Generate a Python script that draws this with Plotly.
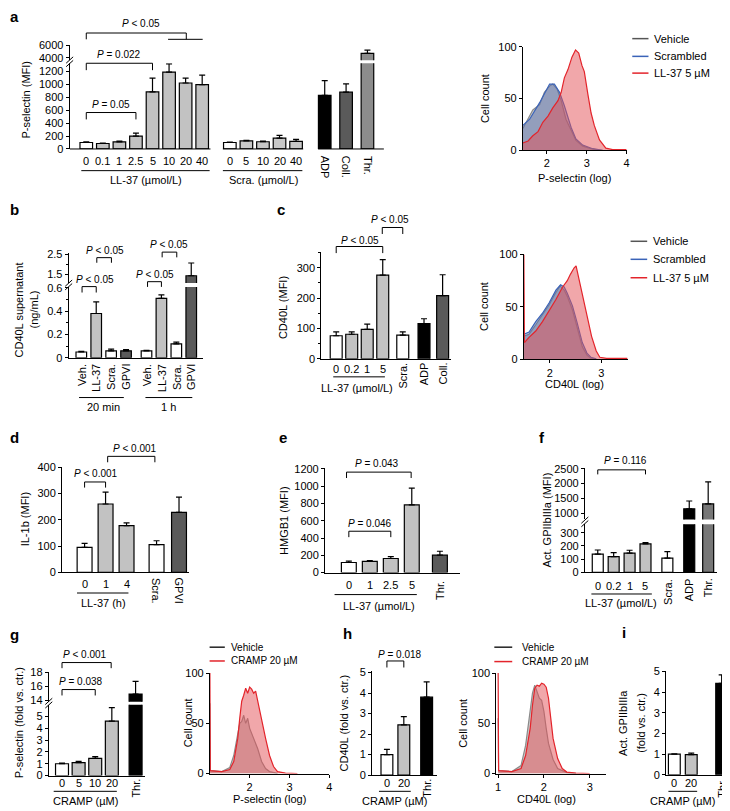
import plotly.graph_objects as go

W, H = 730, 811
FONT = "Liberation Sans, Arial, Helvetica, sans-serif"

# ======================= DATA =======================
# a: P-selectin (MFI)
a_ll37_doses = ["0", "0.1", "1", "2.5", "5", "10", "20", "40"]
a_ll37_mean = [100, 85, 110, 200, 884, 1189, 1021, 995]
a_ll37_sem = [12, 6, 10, 45, 213, 126, 76, 148]
a_scra_doses = ["0", "5", "10", "20", "40"]
a_scra_mean = [100, 125, 112, 168, 117]
a_scra_sem = [6, 10, 8, 41, 31]
a_ctrl_labels = ["ADP", "Coll.", "Thr."]
a_ctrl_mean = [828, 879, 4700]
a_ctrl_sem = [228, 127, 500]

# a histogram (P-selectin log)
a_veh_x = [1.4, 1.53, 1.65, 1.82, 1.94, 2.07, 2.15, 2.26, 2.36, 2.48, 2.61, 2.73, 2.9, 3.15, 3.4]
a_veh_y = [21, 30, 39, 44, 56, 62, 64, 59, 48, 30, 19, 9.5, 4, 1, 0]
a_scr_x = [1.4, 1.57, 1.82, 1.98, 2.07, 2.19, 2.32, 2.44, 2.61, 2.73, 2.9, 3.15, 3.4]
a_scr_y = [24, 30, 46, 58, 64, 64, 56, 43, 22, 11, 5, 1.5, 0]
a_ll_x = [1.4, 1.53, 1.65, 1.78, 1.9, 2.03, 2.15, 2.28, 2.36, 2.44, 2.53, 2.63, 2.72, 2.8, 2.88, 2.94,
          3.03, 3.11, 3.19, 3.32, 3.48, 3.65, 4.0]
a_ll_y = [7, 9, 14, 18, 27, 33, 41, 48, 56, 70, 78, 90, 97, 94, 82, 76, 54, 36, 24, 10, 2, 0.6, 0.6]

# b: CD40L supernatant (ng/mL)
b_groups = ["20 min", "1 h"]
b_labels = ["Veh.", "LL-37", "Scra.", "GPVI"]
b_20min_mean = [0.05, 0.38, 0.06, 0.06]
b_20min_sem = [0.005, 0.10, 0.015, 0.01]
b_1h_mean = [0.06, 0.51, 0.12, 1.43]
b_1h_sem = [0.005, 0.03, 0.015, 0.64]

# c: CD40L (MFI)
c_labels = ["0", "0.2", "1", "5", "Scra.", "ADP", "Coll."]
c_mean = [76, 81, 97, 276, 78, 116, 208]
c_sem = [13, 8, 17, 51, 11, 16, 69]

# c histogram (CD40L log)
c_veh_x = [1.5, 1.6, 1.73, 1.86, 1.99, 2.1, 2.2, 2.28, 2.34, 2.44, 2.53, 2.63, 2.72, 2.8, 2.9]
c_veh_y = [22, 24, 33, 42, 52, 62, 70, 66, 60, 47, 30, 12, 4, 1, 0.3]
c_scr_x = [1.5, 1.6, 1.73, 1.86, 1.99, 2.12, 2.21, 2.28, 2.34, 2.44, 2.53, 2.63, 2.72, 2.8, 2.9]
c_scr_y = [24, 26, 36, 44, 54, 66, 71, 69, 63, 51, 35, 16, 6, 2, 0.5]
c_ll_x = [1.5, 1.51, 1.6, 1.73, 1.86, 1.99, 2.12, 2.25, 2.34, 2.4, 2.47, 2.51, 2.56, 2.64, 2.72,
          2.81, 2.9, 2.97, 3.1, 3.3, 3.5]
c_ll_y = [100, 16, 21, 27, 36, 46, 57, 69, 75, 81, 87, 89, 78, 62, 44, 22, 8, 2, 1, 1, 1]

# d: IL-1b (MFI)
d_labels = ["0", "1", "4", "Scra.", "GPVI"]
d_mean = [95, 260, 178, 105, 228]
d_sem = [15, 45, 10, 15, 58]

# e: HMGB1 (MFI)
e_labels = ["0", "1", "2.5", "5", "Thr."]
e_mean = [117, 129, 163, 783, 202]
e_sem = [16, 11, 23, 194, 45]

# f: Act. GPIIbIIIa (MFI)
f_labels = ["0", "0.2", "1", "5", "Scra.", "ADP", "Thr."]
f_mean = [137, 119, 145, 215, 107, 1147, 1313]
f_sem = [32, 30, 22, 10, 50, 266, 744]

# g: P-selectin (fold vs. ctr.)
g_labels = ["0", "5", "10", "20", "Thr."]
g_mean = [1.0, 1.1, 1.45, 4.6, 14.9]
g_sem = [0.05, 0.1, 0.15, 1.15, 1.8]

# g histogram
g_veh_x = [1.0, 1.01, 1.3, 1.5, 1.6, 1.7, 1.75, 1.8, 1.85, 1.9, 1.95, 2.0, 2.1, 2.2, 2.3, 2.4, 2.5, 2.7]
g_veh_y = [70, 3, 2, 6, 18, 38, 50, 52, 58, 50, 55, 45, 35, 25, 12, 5, 2, 0.3]
g_cr_x = [1.0, 1.01, 1.3, 1.5, 1.6, 1.7, 1.75, 1.8, 1.85, 1.9, 1.95, 2.0, 2.05, 2.1, 2.15, 2.2, 2.3,
          2.4, 2.5, 2.6, 2.7, 2.9, 3.2]
g_cr_y = [100, 3, 2, 4, 12, 35, 55, 72, 78, 85, 80, 86, 84, 80, 82, 72, 55, 35, 18, 7, 2, 0.5, 0]

# h: CD40L (fold vs. ctr.)
h_labels = ["0", "20", "Thr."]
h_mean = [1.0, 2.45, 3.8]
h_sem = [0.25, 0.4, 0.75]

# h histogram
h_veh_x = [1.0, 1.01, 1.3, 1.5, 1.6, 1.7, 1.75, 1.8, 1.85, 1.9, 1.95, 2.0, 2.05, 2.1, 2.2, 2.3, 2.5, 2.7]
h_veh_y = [55, 3, 2, 8, 28, 60, 80, 88, 82, 75, 73, 62, 45, 30, 14, 5, 1, 0]
h_cr_x = [1.0, 1.01, 1.3, 1.5, 1.6, 1.7, 1.75, 1.8, 1.85, 1.9, 1.95, 2.0, 2.05, 2.1, 2.15, 2.2, 2.3,
          2.4, 2.5, 2.7, 3.0]
h_cr_y = [100, 3, 2, 5, 18, 45, 68, 85, 88, 87, 90, 89, 86, 75, 55, 35, 15, 5, 1.5, 0.5, 0]

# i: Act. GPIIbIIIa (fold vs. ctr.)
i_labels = ["0", "20", "Thr."]
i_mean = [1.0, 0.98, 4.42]
i_sem = [0.02, 0.07, 0.41]

# ======================= STYLE / HELPERS =======================
WHITE, LG, LG2, DG, MG, BLK = "#ffffff", "#c2c2c2", "#c8c8c8", "#5a5a5a", "#8c8c8c", "#000000"
VEH_L, SCR_L, RED_L = "#8a8a8a", "#3a63b8", "#e3242b"
VEH_F, SCR_F, RED_F = "rgba(140,140,140,0.45)", "rgba(80,105,170,0.45)", "rgba(228,80,85,0.5)"

layout = dict(width=W, height=H, margin=dict(l=0, r=0, t=0, b=0),
              paper_bgcolor="white", plot_bgcolor="rgba(0,0,0,0)",
              showlegend=False, font=dict(family=FONT, size=11, color="black"))
traces, shapes, annots = [], [], []
counter = {"x": 0, "y": 0}

BASE = dict(showgrid=False, zeroline=False, linecolor="black", linewidth=1,
            tickcolor="black", tickwidth=1, ticklen=3, fixedrange=True,
            tickfont=dict(family=FONT, size=11, color="black"))


def _new(letter):
    counter[letter] += 1
    k = counter[letter]
    return (f"{letter}axis" if k == 1 else f"{letter}axis{k}"), (letter if k == 1 else f"{letter}{k}")


def px2x(x):
    return x / W


def px2y(y):
    return 1 - y / H


def xaxis(x0, x1, rng, **kw):
    key, ref = _new("x")
    d = dict(BASE)
    d.update(domain=[px2x(x0), px2x(x1)], range=rng)
    d.update(kw)
    layout[key] = d
    return key, ref


def yaxis(yb, yt, rng, xref, **kw):
    key, ref = _new("y")
    d = dict(BASE)
    d.update(domain=[px2y(yb), px2y(yt)], range=rng, anchor=xref, showline=True, ticks="outside")
    d.update(kw)
    layout[key] = d
    return key, ref


def text(x, y, s, size=11, xref="paper", xanchor="center", yanchor="middle", angle=0, bold=False):
    xx = px2x(x) if xref == "paper" else x
    if bold:
        s = f"<b>{s}</b>"
    annots.append(dict(x=xx, y=px2y(y), xref=xref, yref="paper", text=s, showarrow=False,
                       font=dict(family=FONT, size=size, color="black"),
                       xanchor=xanchor, yanchor=yanchor, textangle=angle, borderpad=0))


def seg(x0, y0, x1, y1, xref="paper", color="black", width=1):
    if xref == "paper":
        x0, x1 = px2x(x0), px2x(x1)
    shapes.append(dict(type="line", x0=x0, x1=x1, y0=px2y(y0), y1=px2y(y1), xref=xref,
                       yref="paper", line=dict(color=color, width=width)))


def bracket(xref, xa, xb, ytop, ybot, label, ytext, xtext=None, size=10):
    seg(xa, ybot, xa, ytop, xref)
    seg(xa, ytop, xb, ytop, xref)
    seg(xb, ytop, xb, ybot, xref)
    if xtext is None:
        text((xa + xb) / 2, ytext, label, size=size, xref=xref)
    else:
        text(xtext, ytext, label, size=size)


def breakmark(x, ymid):
    for dy in (-1.8, 1.8):
        seg(x - 3.5, ymid + dy + 3.2, x + 3.5, ymid + dy - 3.2)


def bar_panel(xL, xR, first, unit, pos, means, sems, colors, barw, segs, xline=True):
    rng = [(xL - first) / unit, (xR - first) / unit]
    xkey, xref = xaxis(xL, xR, rng, showline=xline, ticks="", showticklabels=False)
    yrefs = []
    for s in segs:
        extra = {}
        if s.get("minor"):
            extra["minor"] = dict(dtick=s["minor"], ticklen=2, ticks="outside",
                                  tickcolor="black", tickwidth=1)
        ykey, yref = yaxis(s["b"], s["t"], s["r"], xref, tickvals=s["ticks"], **extra)
        yrefs.append(yref)
        traces.append(go.Bar(
            x=pos, y=means, width=barw, xaxis=xref, yaxis=yref,
            marker=dict(color=colors, line=dict(color="black", width=1.2)),
            error_y=dict(type="data", array=sems, arrayminus=[0] * len(sems), symmetric=False,
                         color="black", thickness=1.2, width=3),
            hoverinfo="skip", showlegend=False))
    layout[xkey]["anchor"] = yrefs[0]
    return xref, rng


def hist_panel(xL, xR, xr, xt, yb, yt, curves):
    xkey, xref = xaxis(xL, xR, xr, showline=True, ticks="outside", tickvals=xt)
    ykey, yref = yaxis(yb, yt, [0, 100], xref, tickvals=[0, 50, 100])
    layout[xkey]["anchor"] = yref
    for xs, ys, lc, fc in curves:
        traces.append(go.Scatter(x=xs, y=ys, mode="lines", line=dict(color=lc, width=1.2),
                                 fill="tozeroy", fillcolor=fc, xaxis=xref, yaxis=yref,
                                 hoverinfo="skip", showlegend=False))
    return xref


def legend_item(x0, x1, xt, y, label, color, size=11):
    seg(x0, y, x1, y, color=color, width=1.5)
    text(xt, y, label, size=size, xanchor="left")


LT = "&lt;"

# ======================= PANEL a =======================
pa_pos = ([i for i in range(len(a_ll37_mean))] +
          [8.67 + i for i in range(len(a_scra_mean))] +
          [14.4 + 1.29 * i for i in range(len(a_ctrl_mean))])
pa_cols = [WHITE] + [LG] * 7 + [WHITE] + [LG2] * 4 + [BLK, DG, MG]
xa, rnga = bar_panel(61, 377, 77.7, 16.65, pa_pos,
                     a_ll37_mean + a_scra_mean + a_ctrl_mean,
                     a_ll37_sem + a_scra_sem + a_ctrl_sem, pa_cols, 0.76,
                     [dict(b=137, t=50, r=[0, 1326], ticks=list(range(0, 1201, 200))),
                      dict(b=47, t=31, r=[3571, 6111], ticks=[4000, 6000])], xline=False)
breakmark(61, 48.5)
seg(rnga[0], 137, 7.5, 137, xa)
seg(8.25, 137, 13.1, 137, xa)
seg(14.0, 137, rnga[1], 137, xa)
n1, n2 = len(a_ll37_doses), len(a_scra_doses)
for p, lab in zip(pa_pos[:n1], a_ll37_doses):
    text(p, 149, lab, xref=xa)
for p, lab in zip(pa_pos[n1:n1 + n2], a_scra_doses):
    text(p, 149, lab, xref=xa)
for p, lab in zip(pa_pos[n1 + n2:], a_ctrl_labels):
    text(p, 143, lab, xref=xa, angle=90, yanchor="top")
seg(-0.3, 159, 7.45, 159, xa)
seg(8.25, 159, 13.05, 159, xa)
text(3.6, 168, "LL-37 (µmol/L)", xref=xa)
text(10.7, 168, "Scra. (µmol/L)", xref=xa)
bracket(xa, 0, 3, 100, 107, f"<i>P</i> = 0.05", 92)
bracket(xa, 0, 4, 50, 57, f"<i>P</i> = 0.022", 40.7)
seg(0, 25.7, 0, 19.3, xa)
seg(0, 19.3, 6.04, 19.3, xa)
seg(6.04, 19.3, 6.04, 25.7, xa)
seg(4.94, 25.7, 7.03, 25.7, xa)
text(133, 10, f"<i>P</i> {LT} 0.05", size=10)
text(17, 87, "P-selectin (MFI)", angle=-90)
text(0, 3, "a", size=15, xanchor="left", bold=True)

# a histogram
hist_panel(516.7, 621, [1.4, 4.0], [2, 3, 4], 138.3, 33.3,
           [(a_veh_x, a_veh_y, VEH_L, VEH_F), (a_scr_x, a_scr_y, SCR_L, SCR_F),
            (a_ll_x, a_ll_y, RED_L, RED_F)])
text(569, 166, "P-selectin (log)")
text(478, 86, "Cell count", angle=-90)
legend_item(626.7, 643, 648, 25, "Vehicle", "#555555")
legend_item(626.7, 643, 648, 43, "Scrambled", SCR_L)
legend_item(626.7, 643, 648, 60, "LL-37 5 µM", RED_L)

# ======================= PANEL b =======================
pb_pos = [i for i in range(4)] + [4.37 + i for i in range(4)]
pb_cols = [WHITE, LG, WHITE, DG] * 2
xb, rngb = bar_panel(60, 195, 72.7, 15, pb_pos, b_20min_mean + b_1h_mean,
                     b_20min_sem + b_1h_sem, pb_cols, 0.71,
                     [dict(b=349, t=277, r=[0, 0.608], ticks=[0, 0.2, 0.4, 0.6], minor=0.1),
                      dict(b=273, t=243, r=[1.07, 2.55], ticks=[1.5, 2.5], minor=0.5)])
breakmark(60, 275)
for p, lab in zip(pb_pos, b_labels * 2):
    text(p, 354, lab, xref=xb, angle=-90, yanchor="top")
seg(-0.15, 389.3, 2.85, 389.3, xb)
seg(4.3, 389.3, 7.44, 389.3, xb)
text(1.49, 399.3, b_groups[0], xref=xb)
text(5.82, 399.3, b_groups[1], xref=xb)
bracket(xb, 0.05, 1.0, 276.7, 282.7, f"<i>P</i> {LT} 0.05", 269, xtext=86.7)
bracket(xb, 1.04, 2.02, 247.3, 252.5, f"<i>P</i> {LT} 0.05", 240, xtext=96.7)
bracket(xb, 4.44, 5.37, 271.7, 277, f"<i>P</i> {LT} 0.05", 264.3, xtext=146.7)
bracket(xb, 5.42, 6.4, 241.7, 247, f"<i>P</i> {LT} 0.05", 234, xtext=161)
text(10, 300, "CD40L supernatant", angle=-90)
text(25, 300, "(ng/mL)", angle=-90)
text(0, 198, "b", size=15, xanchor="left", bold=True)

# ======================= PANEL c =======================
pc_pos = [0, 1, 2, 3, 4.29, 5.66, 6.86]
pc_cols = [WHITE, LG, LG, LG, WHITE, BLK, DG]
xc, rngc = bar_panel(314, 444, 329, 15.6, pc_pos, c_mean, c_sem, pc_cols, 0.77,
                     [dict(b=350, t=241.7, r=[0, 351.6], ticks=[0, 100, 200, 300], minor=50)])
for p, lab in zip(pc_pos[:4], c_labels[:4]):
    text(p, 360, lab, xref=xc)
for p, lab in zip(pc_pos[4:], c_labels[4:]):
    text(p, 353, lab, xref=xc, angle=-90, yanchor="top")
seg(-0.19, 368.3, 3.14, 368.3, xc)
text(1.35, 379.3, "LL-37 (µmol/L)", xref=xc)
bracket(xc, 0, 3, 236, 242.7, f"<i>P</i> {LT} 0.05", 230, xtext=353.3)
bracket(xc, 2.97, 4.29, 216.7, 223.3, f"<i>P</i> {LT} 0.05", 209, xtext=382.7)
text(275, 298, "CD40L (MFI)", angle=-90)
text(268, 198, "c", size=15, xanchor="left", bold=True)

# c histogram
hist_panel(517.7, 622.7, [1.5, 3.52], [2, 3], 350.6, 244,
           [(c_veh_x, c_veh_y, VEH_L, VEH_F), (c_scr_x, c_scr_y, SCR_L, SCR_F),
            (c_ll_x, c_ll_y, RED_L, RED_F)])
text(569, 376, "CD40L (log)")
text(477, 297, "Cell count", angle=-90)
legend_item(625, 641.7, 646.7, 230.7, "Vehicle", "#555555")
legend_item(625, 641.7, 646.7, 249, "Scrambled", SCR_L)
legend_item(625, 641.7, 646.7, 267.7, "LL-37 5 µM", RED_L)

# ======================= PANEL d =======================
pd_pos = [0, 1, 2, 3.43, 4.5]
pd_cols = [WHITE, LG, LG, WHITE, DG]
xd, rngd = bar_panel(53.3, 181, 76, 21.1, pd_pos, d_mean, d_sem, pd_cols, 0.71,
                     [dict(b=566.7, t=460, r=[0, 400], ticks=[0, 100, 200, 300, 400])])
for p, lab in zip(pd_pos[:3], d_labels[:3]):
    text(p, 579, lab, xref=xd)
for p, lab in zip(pd_pos[3:], d_labels[3:]):
    text(p, 571, lab, xref=xd, angle=90, yanchor="top")
seg(-0.36, 587.7, 2.09, 587.7, xd)
text(0.9, 598.3, "LL-37 (h)", xref=xd)
bracket(xd, 0, 1, 475, 480.7, f"<i>P</i> {LT} 0.001", 466.7, xtext=87.3)
bracket(xd, 1.1, 3.35, 449, 455, f"<i>P</i> {LT} 0.001", 440.7, xtext=126.7)
text(16, 513, "IL-1b (MFI)", angle=-90)
text(0, 430, "d", size=15, xanchor="left", bold=True)

# ======================= PANEL e =======================
pe_pos = [0, 1, 2, 3, 4.34]
pe_cols = [WHITE, LG, LG, LG, DG]
xe, rnge = bar_panel(317.7, 453, 341.7, 21.1, pe_pos, e_mean, e_sem, pe_cols, 0.71,
                     [dict(b=567, t=461, r=[0, 1208], ticks=list(range(0, 1201, 200)))])
for p, lab in zip(pe_pos[:4], e_labels[:4]):
    text(p, 580, lab, xref=xe)
text(pe_pos[4], 574, e_labels[4], xref=xe, angle=-90, yanchor="top")
seg(-0.68, 589.3, 3.24, 589.3, xe)
text(1.42, 601, "LL-37 (µmol/L)", xref=xe)
bracket(xe, -0.11, 2.97, 465, 471, f"<i>P</i> = 0.043", 456.7, xtext=370)
bracket(xe, 0, 2, 525, 531, f"<i>P</i> = 0.046", 517)
text(277, 514, "HMGB1 (MFI)", angle=-90)
text(270, 430, "e", size=15, xanchor="left", bold=True)

# ======================= PANEL f =======================
pf_pos = [0, 1, 2, 3, 4.375, 5.75, 6.94]
pf_cols = [WHITE, LG, LG, LG, WHITE, BLK, "#777777"]
xf, rngf = bar_panel(579, 712, 592, 16, pf_pos, f_mean, f_sem, pf_cols, 0.69,
                     [dict(b=566.7, t=518, r=[0, 363], ticks=[0, 100, 200, 300]),
                      dict(b=513, t=461, r=[790, 2523], ticks=[1000, 1500, 2000, 2500])])
breakmark(579, 515.5)
for p, lab in zip(pf_pos[:4], f_labels[:4]):
    text(p, 580.5, lab, xref=xf)
for p, lab in zip(pf_pos[4:], f_labels[4:]):
    text(p, 572, lab, xref=xf, angle=-90, yanchor="top")
seg(-0.4, 588.7, 3.4, 588.7, xf)
text(615, 597.5, "LL-37 (µmol/L)")
bracket(xf, 0, 3, 462.7, 467.3, f"<i>P</i> = 0.116", 453.3, xtext=620)
text(541, 514, "Act. GPIIbIIIa (MFI)", angle=-90)
text(532, 430, "f", size=15, xanchor="left", bold=True)

# ======================= PANEL g =======================
pg_pos = [0, 1, 2, 3, 4.43]
pg_cols = [WHITE, LG, LG, LG, BLK]
xg, rngg = bar_panel(40, 137, 53.3, 16.7, pg_pos, g_mean, g_sem, pg_cols, 0.78,
                     [dict(b=773, t=701, r=[0, 6.0], ticks=[0, 1, 2, 3, 4, 5]),
                      dict(b=698, t=667.5, r=[13.82, 18.1], ticks=[14, 16, 18])])
breakmark(40, 699.5)
for p, lab in zip(pg_pos[:4], g_labels[:4]):
    text(p, 781, lab, xref=xg)
text(pg_pos[4], 775, g_labels[4], xref=xg, angle=-90, yanchor="top")
seg(-0.5, 789, 3.3, 789, xg)
text(77, 799, "CRAMP (µM)")
bracket(xg, 0, 2.96, 658.3, 664, f"<i>P</i> {LT} 0.001", 650, xtext=76.7)
bracket(xg, 0, 2, 685.7, 691.7, f"<i>P</i> = 0.038", 677.3, xtext=72)
text(10, 719, "P-selectin (fold vs. ctr.)", angle=-90)
text(0, 630, "g", size=15, xanchor="left", bold=True)

# g histogram
hist_panel(202, 322, [1, 4], [2, 3, 4], 771, 669,
           [(g_veh_x, g_veh_y, VEH_L, VEH_F), (g_cr_x, g_cr_y, RED_L, RED_F)])
text(262, 797, "P-selectin (log)")
text(180, 720, "Cell count", angle=-90)
legend_item(201.7, 217, 222, 642.7, "Vehicle", "#222222", size=10)
legend_item(201.7, 217, 222, 656.7, "CRAMP 20 µM", RED_L, size=10)

# ======================= PANEL h =======================
ph_pos = [0, 1, 2.35]
ph_cols = [WHITE, LG, BLK]
xh, rngh = bar_panel(365, 430, 380, 17, ph_pos, h_mean, h_sem, ph_cols, 0.7,
                     [dict(b=772.5, t=667, r=[0, 5.07], ticks=[0, 1, 2, 3, 4, 5])])
for p, lab in zip(ph_pos[:2], h_labels[:2]):
    text(p, 781, lab, xref=xh)
text(ph_pos[2], 775, h_labels[2], xref=xh, angle=-90, yanchor="top")
seg(-0.47, 789, 1.41, 789, xh)
text(388, 799, "CRAMP (µM)")
bracket(xh, 0, 1, 656.7, 663.3, f"<i>P</i> = 0.018", 650, xtext=393.3)
text(337, 720, "CD40L (fold vs. ctr.)", angle=-90)
text(335, 629, "h", size=15, xanchor="left", bold=True)

# h histogram
hist_panel(490, 600, [0.96, 3.35], [1, 2, 3], 771, 669,
           [(h_veh_x, h_veh_y, VEH_L, VEH_F), (h_cr_x, h_cr_y, RED_L, RED_F)])
text(540, 797, "CD40L (log)")
text(457, 720, "Cell count", angle=-90)
legend_item(488, 506, 515, 642.7, "Vehicle", "#222222", size=10)
legend_item(488, 506, 515, 657.3, "CRAMP 20 µM", RED_L, size=10)

# ======================= PANEL i =======================
pi_pos = [0, 1, 2.8]
pi_cols = [WHITE, LG, BLK]
xi, rngi = bar_panel(660.7, 727, 669, 17, pi_pos, i_mean, i_sem, pi_cols, 0.7,
                     [dict(b=772.3, t=667, r=[0, 5.01], ticks=[0, 1, 2, 3, 4, 5])])
for p, lab in zip(pi_pos[:2], i_labels[:2]):
    text(p, 781, lab, xref=xi)
text(pi_pos[2], 775, i_labels[2], xref=xi, angle=-90, yanchor="top")
seg(-0.35, 789, 1.35, 789, xi)
text(677, 799, "CRAMP (µM)")
text(618, 720, "Act. GPIIbIIIa", angle=-90)
text(636, 720, "(fold vs. ctr.)", angle=-90)
text(615, 628, "i", size=15, xanchor="left", bold=True)

layout["shapes"] = shapes
layout["annotations"] = annots
fig = go.Figure(data=traces, layout=layout)
fig.write_html("out.html")
